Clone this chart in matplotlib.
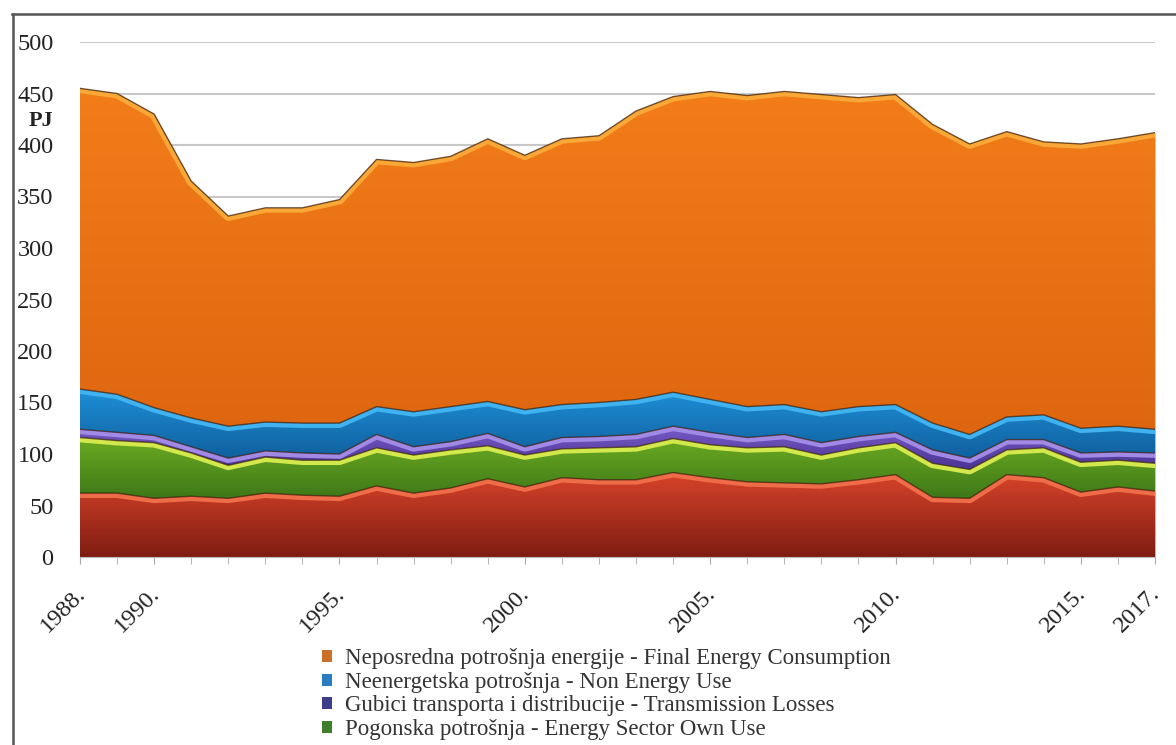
import numpy as np
import matplotlib.pyplot as plt
import matplotlib.transforms as mtransforms
from matplotlib.colors import LinearSegmentedColormap
from matplotlib.lines import Line2D
from matplotlib.patches import Patch

plt.rcParams['font.family'] = ['Liberation Serif', 'DejaVu Serif']

years = list(range(1988, 2018))

# PJ, slojevi odozdo prema gore
gubici_transformacije = [62, 62, 57, 59, 57, 62, 60, 59, 69, 62, 67, 76, 68, 77, 75,
                         75, 82, 77, 73, 72, 71, 75, 80, 58, 57, 80, 77, 63, 68, 64]
pogonska = [54, 51, 54, 42, 32, 35, 34, 35, 37, 37, 37, 32, 31, 28, 31,
            32, 33, 32, 33, 35, 28, 31, 31, 33, 28, 24, 29, 29, 26, 27]
gubici_transporta = [8, 8, 7, 6, 7, 6, 7, 6, 13, 8, 8, 12, 8, 11, 11,
                     12, 12, 12, 10, 12, 12, 11, 10, 13, 11, 10, 8, 9, 8, 10]
neenergetska = [39, 37, 27, 28, 31, 28, 29, 30, 27, 34, 34, 31, 36, 32, 33,
                34, 33, 32, 30, 29, 30, 29, 27, 26, 23, 22, 24, 24, 25, 23]
neposredna = [292, 292, 285, 230, 204, 208, 209, 217, 240, 242, 243, 255, 247, 258, 259,
              280, 287, 299, 302, 304, 308, 300, 301, 290, 282, 277, 265, 276, 279, 288]

tick_years = [1988, 1990, 1995, 2000, 2005, 2010, 2015, 2017]
tick_labels = ['1988.', '1990.', '1995.', '2000.', '2005.', '2010.', '2015.', '2017.']
y_ticks = list(range(0, 501, 50))

legend_labels = [
    'Neposredna potrošnja energije - Final Energy Consumption',
    'Neenergetska potrošnja - Non Energy Use',
    'Gubici transporta i distribucije - Transmission Losses',
    'Pogonska potrošnja - Energy Sector Own Use',
]
legend_colors = ['#c8702c', '#2a7cc0', '#3c3c88', '#3f7f2c']

# (tamna donja, svijetla gornja, rub)
band_styles = [
    ('#7e1c12', '#d9442a', '#ef6c48'),
    ('#3e7818', '#6cab22', '#d2e84c'),
    ('#4a3494', '#7a5cc8', '#a08ae6'),
    ('#10609e', '#1f90d8', '#40b2f0'),
    ('#de6610', '#f37d19', '#f9a838'),
]
series = [gubici_transformacije, pogonska, gubici_transporta, neenergetska, neposredna]

fig = plt.figure(figsize=(11.76, 7.45), dpi=100)
ax = fig.add_axes([80 / 1176, 1 - 557 / 745, 1075 / 1176, 515 / 745])

x = np.array(years, dtype=float)
lower = np.zeros(len(years))
for vals, (dark, light, edge) in zip(series, band_styles):
    upper = lower + np.array(vals, dtype=float)
    poly = ax.fill_between(x, lower, upper, color=light, lw=0, zorder=2)
    clip = poly.get_paths()[0]

    # vertikalni gradijent unutar sloja
    cmap = LinearSegmentedColormap.from_list('g', [dark, light])
    grad = np.linspace(0, 1, 256).reshape(-1, 1)
    im = ax.imshow(grad, extent=[x[0], x[-1], lower.min(), upper.max()],
                   origin='lower', aspect='auto', cmap=cmap, zorder=2.1,
                   interpolation='bicubic')
    im.set_clip_path(clip, ax.transData)

    # svijetli rub uz gornju granicu
    hl, = ax.plot(x, upper, color=edge, lw=7, zorder=2.2, solid_joinstyle='round')
    hl.set_clip_path(clip, ax.transData)
    ax.plot(x, upper, color='#3a1e0c', lw=1.0, alpha=0.7, zorder=2.3)
    lower = upper

ax.set_xlim(1988, 2017)
ax.set_ylim(0, 500)
ax.set_yticks(y_ticks)
ax.set_yticklabels([str(v) for v in y_ticks], fontsize=17.5, color='#222222')
ax.tick_params(axis='y', length=0, pad=19)
ax.yaxis.grid(True, color='#c8c8c8', lw=1.5)
ax.set_axisbelow(True)

ax.set_xticks(tick_years)
ax.set_xticks(years, minor=True)
ax.set_xticklabels(tick_labels, fontsize=17.5, color='#222222', rotation=45,
                   ha='right', va='center', rotation_mode='anchor')
ax.tick_params(axis='x', which='both', length=5, color='#aaaaaa', pad=19)
shift = mtransforms.ScaledTranslation(2 / 100, 0, fig.dpi_scale_trans)
for lab in ax.get_xticklabels():
    lab.set_transform(lab.get_transform() + shift)

for side in ['top', 'right', 'left']:
    ax.spines[side].set_visible(False)
ax.spines['bottom'].set_color('#bbbbbb')

fig.text(53 / 1176, 1 - 121 / 745, 'PJ', fontsize=16, fontweight='bold',
         ha='right', va='center', color='#222222')

handles = [Patch(facecolor=c, edgecolor='none') for c in legend_colors]
fig.legend(handles, legend_labels, loc='upper left',
           bbox_to_anchor=(322 / 1176, 1 - 648 / 745), frameon=False,
           fontsize=16.5, handlelength=0.42, handleheight=0.42,
           handletextpad=0.6, labelspacing=0.12, borderpad=0, borderaxespad=0,
           labelcolor='#333333')

# okvir oko grafikona
fig.add_artist(Line2D([12 / 1176, 1], [1 - 14 / 745] * 2, transform=fig.transFigure,
                      color='#555555', lw=1.8))
fig.add_artist(Line2D([13 / 1176] * 2, [0, 1 - 14 / 745], transform=fig.transFigure,
                      color='#555555', lw=1.8))

fig.savefig('out.png', dpi=100)
